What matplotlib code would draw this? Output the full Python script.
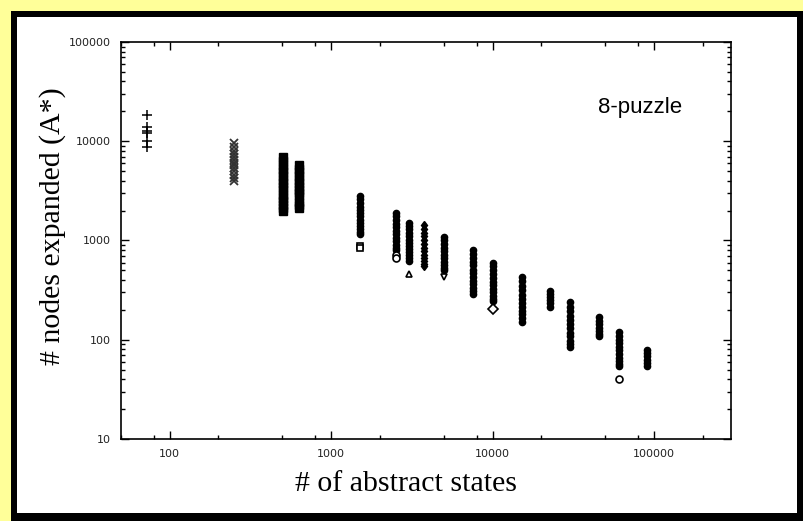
import numpy as np
import matplotlib
matplotlib.use('Agg')
import matplotlib.pyplot as plt
from matplotlib.patches import Rectangle
from matplotlib.ticker import LogLocator, NullFormatter, FixedFormatter, FixedLocator

# abstraction sizes (x) and nodes expanded for each abstraction (y)
abstract_states = [72, 252, 504, 630, 1512, 2520, 3024, 3780, 5040,
                   7560, 10080, 15120, 22680, 30240, 45360, 60480, 90720]

nodes_expanded = [
    [18500, 13800, 12800, 12200, 10000, 8700],
    [9500, 8800, 8000, 7500, 7000, 6500, 6100, 5800, 5400, 5000, 4600, 4300, 4000],
    [6900, 6300, 5800, 5300, 4900, 4500, 4100, 3800, 3500, 3200, 2900, 2700, 2500, 2300, 2150, 2000],
    [5800, 5300, 4900, 4500, 4100, 3800, 3500, 3200, 3000, 2800, 2450, 2300, 2150],
    [2800, 2600, 2400, 2200, 2050, 1900, 1750, 1620, 1500, 1400, 1300, 1220, 1150],
    [1900, 1750, 1600, 1480, 1360, 1250, 1150, 1060, 980, 900, 840, 800],
    [1500, 1400, 1300, 1200, 1100, 1020, 950, 880, 820, 760, 710, 660, 620],
    [1420, 1300, 1200, 1100, 1000, 920, 850, 780, 720, 670, 620, 580, 550],
    [1090, 1000, 920, 850, 780, 720, 660, 610, 570, 530, 510],
    [800, 730, 670, 610, 560, 510, 470, 430, 395, 365, 335, 310, 290],
    [600, 550, 500, 460, 420, 385, 355, 325, 300, 275, 255, 245],
    [430, 390, 350, 315, 285, 260, 235, 215, 195, 180, 165, 152],
    [310, 290, 270, 250, 232, 215],
    [240, 215, 195, 175, 158, 143, 130, 118, 108, 98, 90, 84],
    [168, 155, 143, 132, 122, 113, 108],
    [120, 110, 100, 92, 85, 78, 72, 66, 61, 57, 54],
    [79, 73, 68, 63, 58, 54],
]
column_markers = ['+', 'x', 's', 's', 'o', 'o', 'o', 'd', 'o', 'o', 'o', 'o', 'o', 'o', 'o', 'o', 'o']

# stray outliers below some columns
outlier_x = [1512, 1512, 2520, 2520, 3024, 5040, 10080, 60480]
outlier_y = [880, 850, 720, 670, 460, 430, 204, 40]
outlier_markers = ['s', 's', 'o', 'o', '^', 'v', 'D', 'o']

W, H = 804, 521
fig = plt.figure(figsize=(W / 100, H / 100), dpi=100)
fig.patch.set_facecolor('#ffff99')

# black frame with white panel
fig.add_artist(Rectangle((11 / W, 0), (W - 11) / W, (H - 11) / H,
                         transform=fig.transFigure, facecolor='black', edgecolor='none', zorder=-2))
fig.add_artist(Rectangle((17 / W, 8 / H), (797 - 17) / W, (H - 17 - 8) / H,
                         transform=fig.transFigure, facecolor='white', edgecolor='none', zorder=-1))

ax = fig.add_axes([121 / W, 1 - 439 / H, (731 - 121) / W, (439 - 42) / H])
ax.set_facecolor('white')

for x, ys, m in zip(abstract_states, nodes_expanded, column_markers):
    xs = [x] * len(ys)
    if m == '+':
        ax.plot(xs, ys, linestyle='none', marker=m, color='black', markersize=7, markeredgewidth=1.1)
    elif m == 'x':
        ax.plot(xs, ys, linestyle='none', marker=m, color='#333333', markersize=5.5, markeredgewidth=1.3)
    elif m == 's':
        ax.plot(xs, ys, linestyle='none', marker=m, color='black', markersize=5.5)
    else:
        ax.plot(xs, ys, linestyle='none', marker=m, color='black', markersize=4.5)

for x, y, m in zip(outlier_x, outlier_y, outlier_markers):
    ax.plot([x], [y], linestyle='none', marker=m, markerfacecolor='white',
            markeredgecolor='black', markersize=5, markeredgewidth=1.2)

ax.set_xscale('log')
ax.set_yscale('log')
ax.set_xlim(50, 300000)
ax.set_ylim(10, 100000)

ax.xaxis.set_major_locator(FixedLocator([100, 1000, 10000, 100000]))
ax.xaxis.set_major_formatter(FixedFormatter(['100', '1000', '10000', '100000']))
ax.xaxis.set_minor_locator(LogLocator(base=10, subs=[2, 5, 8]))
ax.xaxis.set_minor_formatter(NullFormatter())

ax.yaxis.set_major_locator(FixedLocator([10, 100, 1000, 10000, 100000]))
ax.yaxis.set_major_formatter(FixedFormatter(['10', '100', '1000', '10000', '100000']))
ax.yaxis.set_minor_locator(LogLocator(base=10, subs=np.arange(2, 10)))
ax.yaxis.set_minor_formatter(NullFormatter())

ax.tick_params(which='both', direction='in', top=True, right=True, color='black',
               labelsize=8, labelcolor='#222222', pad=7)
ax.tick_params(which='major', length=6, width=1)
ax.tick_params(which='minor', length=3, width=1)
for s in ax.spines.values():
    s.set_linewidth(1.2)

ax.text(598 / W, 1 - 113 / H, '8-puzzle', transform=fig.transFigure,
        fontsize=16, family='Liberation Sans', color='black', ha='left', va='baseline')

fig.text(406 / W, 1 - 484 / H, '# of abstract states', fontsize=21.5,
         family='Liberation Serif', ha='center', va='center')
fig.text(53 / W, 1 - 226 / H, '# nodes expanded (A*)', fontsize=21.5,
         family='Liberation Serif', ha='center', va='center', rotation=90)

fig.savefig('out.png', dpi=100, facecolor=fig.get_facecolor())
